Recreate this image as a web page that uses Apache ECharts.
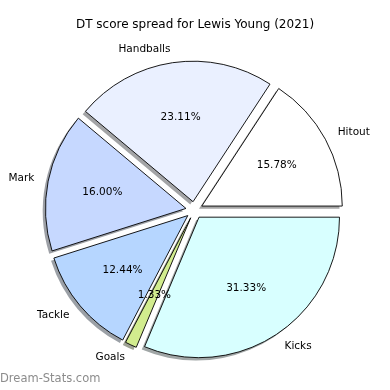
<!DOCTYPE html>
<html><head><meta charset="utf-8">
<script src="https://cdn.jsdelivr.net/npm/echarts@6/dist/echarts.min.js"></script>
<style>html,body{margin:0;padding:0;background:#fff}#c{width:390px;height:390px}</style>
</head><body><div id="c"></div>
<script>
const categories = ['Hitout', 'Handballs', 'Mark', 'Tackle', 'Goals', 'Kicks'];
const scores = [71, 104, 72, 56, 6, 141];
const colors = ['#ffffff', '#eaf0ff', '#c6d8ff', '#b6d6ff', '#d2ec8e', '#d8ffff'];
const titleText = 'DT score spread for Lewis Young (2021)';
const watermark = 'Dream-Stats.com';

const R = 140.5, CX = 194.3, CY = 210.1, OFF = 8.5, SH = 2.8;
const font = 'DejaVu Sans';
const total = scores.reduce((a, b) => a + b, 0);

function shadowColor(hex) {
  const n = parseInt(hex.slice(1), 16);
  const ch = [(n >> 16) & 255, (n >> 8) & 255, n & 255].map(v => Math.round(0.5 * 255 + 0.5 * 0.3 * v));
  return 'rgb(' + ch.join(',') + ')';
}

const mainData = categories.map((c, i) => ({
  name: c, value: scores[i], selected: true,
  itemStyle: { color: colors[i] }
}));
const shadowData = categories.map((c, i) => ({
  name: c, value: scores[i], selected: true,
  itemStyle: { color: shadowColor(colors[i]) }
}));
const pctData = categories.map((c, i) => ({
  name: c, value: scores[i], selected: true
}));

const common = {
  type: 'pie', startAngle: 0, clockwise: false,
  selectedMode: 'multiple', selectedOffset: OFF,
  avoidLabelOverlap: false, silent: true,
  emphasis: { disabled: true }
};

const chart = echarts.init(document.getElementById('c'), null, { renderer: 'canvas' });
chart.setOption({
  animation: false,
  title: [
    { text: titleText, left: 'center', top: 19, padding: 0,
      textStyle: { fontFamily: font, fontSize: 12, fontWeight: 'normal', color: '#000' } },
    { text: watermark, left: 0, top: 373, padding: 0,
      textStyle: { fontFamily: font, fontSize: 11.5, fontWeight: 'normal', color: '#8c8c8c' } }
  ],
  series: [
    Object.assign({}, common, {
      z: 1, center: [CX - SH, CY + SH], radius: [0, R],
      itemStyle: { borderWidth: 0 },
      label: { show: false }, labelLine: { show: false },
      data: shadowData
    }),
    Object.assign({}, common, {
      z: 2, center: [CX, CY], radius: [0, R],
      itemStyle: { borderColor: '#000', borderWidth: 0.9 },
      label: { show: true, position: 'outside', alignTo: 'none', formatter: '{b}',
        distanceToLabelLine: 0, padding: [2, 0, 0, 0],
        fontFamily: font, fontSize: 10.5, color: '#000' },
      labelLine: { show: false, length: 0.1 * R, length2: 0 },
      data: mainData
    }),
    Object.assign({}, common, {
      z: 3, center: [CX, CY], radius: [0, 164.4],
      itemStyle: { color: 'rgba(0,0,0,0)', borderWidth: 0 },
      label: { show: true, position: 'inside', padding: [2, 0, 0, 0],
        formatter: p => (p.value / total * 100).toFixed(2) + '%',
        fontFamily: font, fontSize: 10.5, color: '#000' },
      labelLine: { show: false },
      data: pctData
    })
  ]
});
</script></body></html>
